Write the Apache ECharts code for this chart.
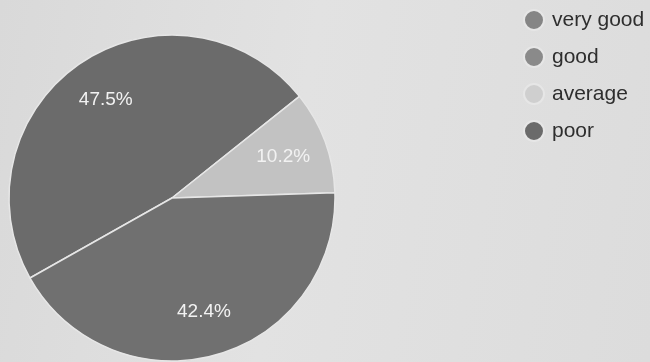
<!DOCTYPE html>
<html>
<head>
<meta charset="utf-8">
<script src="https://cdn.jsdelivr.net/npm/echarts@6/dist/echarts.min.js"></script>
<style>
html, body { margin: 0; padding: 0; }
#main { width: 650px; height: 362px; background: linear-gradient(100deg, #d9d9d9 0%, #e2e2e2 45%, #dcdcdc 100%); }
</style>
</head>
<body>
<div id="main"></div>
<script>
var categories = ['very good', 'good', 'average', 'poor'];
var values = [0, 47.5, 10.2, 42.4];
var colors = ['#7c7c7c', '#6b6b6b', '#c2c2c2', '#707070'];
var legendColors = ['#858585', '#8a8a8a', '#cfcfcf', '#6a6a6a'];

var chart = echarts.init(document.getElementById('main'));

var pieData = categories.map(function (name, i) {
  return { name: name, value: values[i], itemStyle: { color: colors[i] } };
});

var option = {
  animation: false,
  legend: {
    orient: 'vertical',
    left: 518,
    top: 4,
    icon: 'circle',
    itemWidth: 20,
    itemHeight: 20,
    itemGap: 15,
    textStyle: { fontFamily: 'Liberation Sans', fontSize: 21, color: '#2e2e2e', padding: [0, 0, 0, 3] },
    data: categories.map(function (name, i) {
      return { name: name, itemStyle: { color: legendColors[i] } };
    })
  },
  series: [
    {
      // the pie itself
      type: 'pie',
      center: [172, 198],
      radius: 163,
      startAngle: 209.4,
      clockwise: true,
      label: { show: false },
      labelLine: { show: false },
      itemStyle: { borderColor: '#e6e6e6', borderWidth: 1.5 },
      data: pieData
    },
    {
      // transparent ring only to place the labels further out
      type: 'pie',
      silent: true,
      center: [172, 198],
      radius: [68, 163],
      startAngle: 209.4,
      clockwise: true,
      itemStyle: { color: 'transparent', borderWidth: 0 },
      labelLine: { show: false },
      label: {
        show: true,
        position: 'inside',
        color: '#f2f2f2',
        fontFamily: 'Liberation Sans',
        fontSize: 19,
        formatter: function (p) { return p.value > 0 ? p.value + '%' : ''; }
      },
      data: categories.map(function (name, i) { return { name: name, value: values[i] }; })
    }
  ]
};
chart.setOption(option);
</script>
</body>
</html>
